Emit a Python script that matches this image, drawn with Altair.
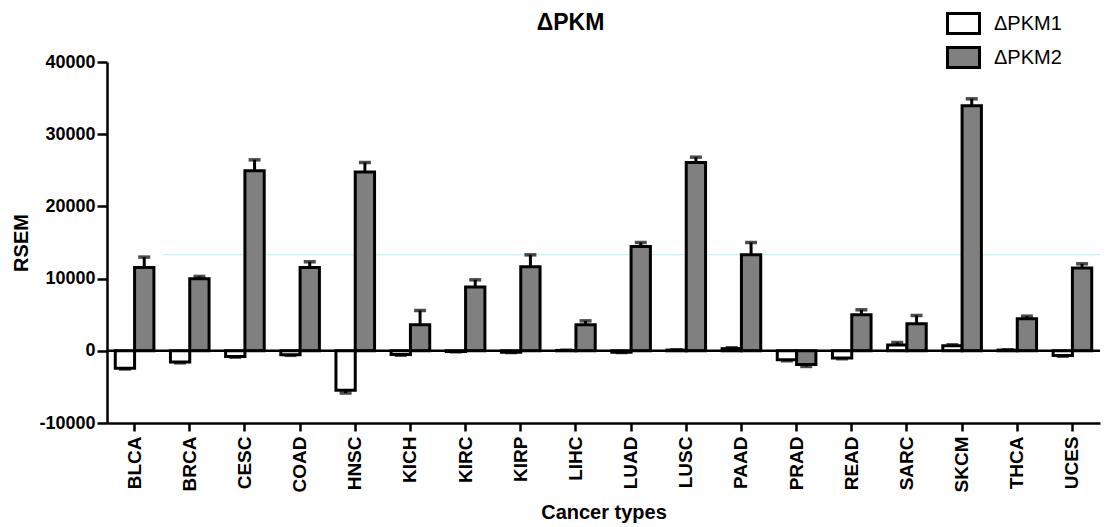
import altair as alt
import pandas as pd

cats = ["BLCA", "BRCA", "CESC", "COAD", "HNSC", "KICH", "KIRC", "KIRP", "LIHC",
        "LUAD", "LUSC", "PAAD", "PRAD", "READ", "SARC", "SKCM", "THCA", "UCES"]
series_names = ["ΔPKM1", "ΔPKM2"]
pkm1 = [-2400, -1550, -800, -550, -5450, -500, -100, -200, 50,
        -200, 100, 300, -1250, -1000, 800, 700, 100, -650]
pkm1_err = [120, 120, 80, 80, 400, 120, 40, 40, 30,
            40, 40, 120, 130, 100, 350, 130, 40, 100]
pkm2 = [11550, 9970, 24930, 11550, 24750, 3600, 8820, 11630, 3600,
        14450, 26080, 13290, -1900, 4990, 3740, 33930, 4430, 11460]
pkm2_err = [1430, 330, 1520, 780, 1330, 1980, 1010, 1660, 550,
            550, 740, 1710, 270, 690, 1150, 970, 370, 590]
y_ticks = [-10000, 0, 10000, 20000, 30000, 40000]
artifact_line = [13300]

rows = []
for i, c in enumerate(cats):
    for s, vals, errs in ((series_names[0], pkm1, pkm1_err), (series_names[1], pkm2, pkm2_err)):
        v = vals[i]
        e = errs[i]
        end = v + e if v >= 0 else v - e
        rows.append({"cat": c, "series": s, "value": v, "end": end})
df = pd.DataFrame(rows)

FONT = "Liberation Sans"

x_enc = alt.X("cat:N", sort=cats, title="Cancer types",
              scale=alt.Scale(paddingInner=0.3, paddingOuter=0.15))
xo_enc = alt.XOffset("series:N", sort=series_names,
                     scale=alt.Scale(paddingInner=0, paddingOuter=0))
y_enc = alt.Y("value:Q", title="RSEM",
              scale=alt.Scale(domain=[-10000, 40000], nice=False, zero=False),
              axis=alt.Axis(values=y_ticks, labelExpr="'' + datum.value"))

base = alt.Chart(df)

err_rule = base.mark_rule(color="black", strokeWidth=3).encode(
    x=x_enc, xOffset=xo_enc, y=y_enc, y2="end:Q")
err_cap = base.mark_tick(color="black", size=12, thickness=3.5).encode(
    x=x_enc, xOffset=xo_enc, y=alt.Y("end:Q"))

bars = base.mark_bar(stroke="black", strokeWidth=3).encode(
    x=x_enc, xOffset=xo_enc, y=y_enc,
    color=alt.Color("series:N", sort=series_names,
                    scale=alt.Scale(domain=series_names, range=["white", "#808080"]),
                    legend=alt.Legend(title=None, orient="none", legendX=839, legendY=-56,
                                      symbolType="M-1,-0.625L1,-0.625L1,0.625L-1,0.625Z",
                                      symbolSize=1024, symbolStrokeColor="black",
                                      symbolStrokeWidth=3, labelFontSize=20,
                                      labelFont=FONT, labelOffset=13, rowPadding=-1,
                                      padding=0, labelColor="black")))

cyan = alt.Chart(pd.DataFrame({"v": artifact_line})).mark_rule(
    color="#b5f1f4", strokeWidth=1).encode(
    y=alt.Y("v:Q"), x=alt.value(56), x2=alt.value(993))

zero = alt.Chart(pd.DataFrame({"z": [0]})).mark_rule(
    color="black", strokeWidth=2.5).encode(y=alt.Y("z:Q"))

chart = alt.layer(cyan, err_rule, err_cap, bars, zero).properties(
    width=993, height=361,
    padding={"left": 107, "top": 62, "right": 5, "bottom": 104},
    autosize=alt.AutoSizeParams(type="none"),
    title=alt.TitleParams("ΔPKM", fontSize=23, font=FONT, fontWeight="bold",
                          frame="group", anchor="middle", dx=-33, dy=24, offset=-23,
                          baseline="alphabetic", color="black"),
).configure_view(stroke=None).configure_axis(
    grid=False, domainColor="black", domainWidth=2.5, tickColor="black",
    tickWidth=2.5, labelColor="black", titleColor="black", labelFont=FONT,
    titleFont=FONT, labelFontWeight="bold", titleFontWeight="bold",
).configure_axisY(
    labelFontSize=18, tickSize=10, labelPadding=2, titleFontSize=20, titlePadding=7,
).configure_axisX(
    labelFontSize=19, labelAngle=270, tickSize=8, labelPadding=5,
    titleFontSize=20, titlePadding=11, domain=True,
)

chart.save("out.html", embed_options={"renderer": "svg", "actions": False})
